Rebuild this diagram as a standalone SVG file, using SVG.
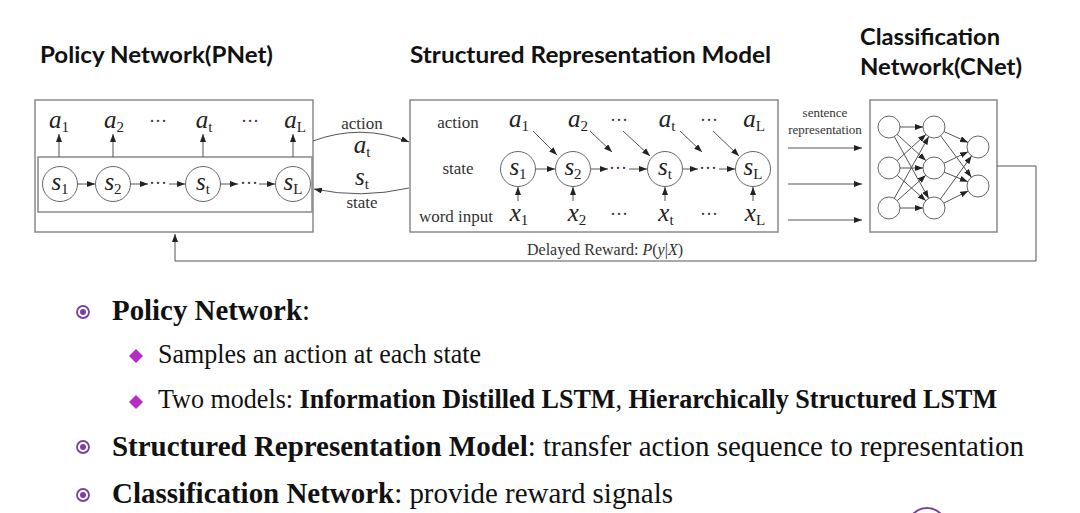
<svg xmlns="http://www.w3.org/2000/svg" width="1080" height="513" viewBox="0 0 1080 513">
<defs>
<style>
.box{fill:none;stroke:#8a8a8a;stroke-width:1.5}
.nd{fill:#fff;stroke:#666;stroke-width:1}
.ln{fill:none;stroke:#555;stroke-width:1}
.arr{fill:none;stroke:#555;stroke-width:1;marker-end:url(#ah)}
.v{font-family:"Liberation Serif",serif;font-style:italic;font-size:25px;fill:#222;text-anchor:middle}
.sub{font-style:normal;font-size:15px}
.dots{font-family:"Liberation Serif",serif;font-size:18px;fill:#333;text-anchor:middle}
.lb{font-family:"Liberation Serif",serif;font-size:17px;fill:#333;text-anchor:middle}
.sm{font-family:"Liberation Serif",serif;font-size:13px;fill:#333;text-anchor:middle}
.title{font-family:Lato,"Liberation Sans",sans-serif;font-weight:bold;font-size:23px;fill:#111}
.b1{font-family:"Liberation Serif",serif;font-size:29px;fill:#111}
.b2{font-family:"Liberation Serif",serif;font-size:27px;fill:#111}
.bd{font-weight:bold}
</style>
<marker id="ah" viewBox="0 0 8 6" refX="8" refY="3" markerWidth="8" markerHeight="6" orient="auto" markerUnits="userSpaceOnUse"><path d="M0,0 L8,3 L0,6 z" fill="#222"/></marker>
</defs>
<rect width="1080" height="513" fill="#fff"/>

<!-- titles -->
<text class="title" x="40" y="63" textLength="233" lengthAdjust="spacingAndGlyphs">Policy Network(PNet)</text>
<text class="title" x="410" y="63" textLength="361" lengthAdjust="spacingAndGlyphs">Structured Representation Model</text>
<text class="title" x="860" y="45" textLength="140" lengthAdjust="spacingAndGlyphs">Classification</text>
<text class="title" x="860" y="75" textLength="162" lengthAdjust="spacingAndGlyphs">Network(CNet)</text>

<!-- PNet -->
<g id="pnet">
<rect class="box" x="35" y="100" width="278" height="132"/>
<rect class="box" x="38" y="157" width="274" height="55"/>
<text class="v" x="59" y="128">a<tspan class="sub" dy="4">1</tspan></text>
<text class="v" x="114" y="128">a<tspan class="sub" dy="4">2</tspan></text>
<text class="dots" x="158" y="127">···</text>
<text class="v" x="204" y="128">a<tspan class="sub" dy="4">t</tspan></text>
<text class="dots" x="250" y="127">···</text>
<text class="v" x="295" y="128">a<tspan class="sub" dy="4">L</tspan></text>
<circle class="nd" cx="60" cy="184" r="17.5"/>
<circle class="nd" cx="113" cy="184" r="17.5"/>
<circle class="nd" cx="203" cy="184" r="17.5"/>
<circle class="nd" cx="293" cy="184" r="17.5"/>
<text class="v" x="60" y="190">s<tspan class="sub" dy="4">1</tspan></text>
<text class="v" x="113" y="190">s<tspan class="sub" dy="4">2</tspan></text>
<text class="v" x="203" y="190">s<tspan class="sub" dy="4">t</tspan></text>
<text class="v" x="293" y="190">s<tspan class="sub" dy="4">L</tspan></text>
<text class="dots" x="158" y="189">···</text>
<text class="dots" x="249" y="189">···</text>
</g>

<!-- SRM -->
<g id="srm">
<rect class="box" x="410" y="100" width="368" height="132"/>
<text class="lb" x="458" y="128">action</text>
<text class="lb" x="458" y="174">state</text>
<text class="lb" x="456" y="222">word input</text>
<text class="v" x="519" y="127">a<tspan class="sub" dy="4">1</tspan></text>
<text class="v" x="578" y="127">a<tspan class="sub" dy="4">2</tspan></text>
<text class="dots" x="619" y="126">···</text>
<text class="v" x="667" y="127">a<tspan class="sub" dy="4">t</tspan></text>
<text class="dots" x="709" y="126">···</text>
<text class="v" x="754" y="127">a<tspan class="sub" dy="4">L</tspan></text>
<circle class="nd" cx="518" cy="169" r="17.5"/>
<circle class="nd" cx="573" cy="169" r="17.5"/>
<circle class="nd" cx="665" cy="169" r="17.5"/>
<circle class="nd" cx="753" cy="169" r="17.5"/>
<text class="v" x="518" y="175">s<tspan class="sub" dy="4">1</tspan></text>
<text class="v" x="573" y="175">s<tspan class="sub" dy="4">2</tspan></text>
<text class="v" x="665" y="175">s<tspan class="sub" dy="4">t</tspan></text>
<text class="v" x="753" y="175">s<tspan class="sub" dy="4">L</tspan></text>
<text class="dots" x="618" y="174">···</text>
<text class="dots" x="708" y="174">···</text>
<text class="v" x="519" y="221">x<tspan class="sub" dy="4">1</tspan></text>
<text class="v" x="577" y="221">x<tspan class="sub" dy="4">2</tspan></text>
<text class="dots" x="619" y="220">···</text>
<text class="v" x="666" y="221">x<tspan class="sub" dy="4">t</tspan></text>
<text class="dots" x="709" y="220">···</text>
<text class="v" x="755" y="221">x<tspan class="sub" dy="4">L</tspan></text>
</g>

<!-- CNet -->
<g id="cnet">
<rect class="box" x="870" y="100" width="127" height="132"/>
<circle class="nd" cx="889" cy="127" r="11"/>
<circle class="nd" cx="889" cy="168" r="11"/>
<circle class="nd" cx="889" cy="208" r="11"/>
<circle class="nd" cx="934" cy="127" r="11"/>
<circle class="nd" cx="934" cy="168" r="11"/>
<circle class="nd" cx="934" cy="208" r="11"/>
<circle class="nd" cx="978" cy="147" r="11"/>
<circle class="nd" cx="978" cy="186" r="11"/>
</g>

<!-- connectors -->
<g id="connectors">
<line class="arr" x1="59" y1="157" x2="59" y2="134"/>
<line class="arr" x1="113" y1="157" x2="113" y2="134"/>
<line class="arr" x1="203" y1="157" x2="203" y2="134"/>
<line class="arr" x1="293" y1="157" x2="293" y2="134"/>
<line class="arr" x1="77" y1="184" x2="95" y2="184"/>
<line class="arr" x1="130" y1="184" x2="148" y2="184"/>
<line class="arr" x1="169" y1="184" x2="185" y2="184"/>
<line class="arr" x1="220" y1="184" x2="238" y2="184"/>
<line class="arr" x1="259" y1="184" x2="275" y2="184"/>
<path class="arr" d="M313,141 Q361,123 409,142"/>
<path class="arr" d="M409,188 Q361,199 314,189"/>
<text class="lb" x="362" y="129">action</text>
<text class="v" x="362" y="153">a<tspan class="sub" dy="4">t</tspan></text>
<text class="v" x="362" y="185">s<tspan class="sub" dy="4">t</tspan></text>
<text class="lb" x="362" y="208">state</text>
<line class="arr" x1="536" y1="169" x2="555" y2="169"/>
<line class="arr" x1="591" y1="169" x2="608" y2="169"/>
<line class="arr" x1="629" y1="169" x2="647" y2="169"/>
<line class="arr" x1="683" y1="169" x2="698" y2="169"/>
<line class="arr" x1="719" y1="169" x2="735" y2="169"/>
<line class="arr" x1="533" y1="131" x2="557" y2="155"/>
<line class="arr" x1="590" y1="131" x2="612" y2="152"/>
<line class="arr" x1="623" y1="131" x2="650" y2="156"/>
<line class="arr" x1="680" y1="131" x2="702" y2="152"/>
<line class="arr" x1="713" y1="131" x2="739" y2="156"/>
<line class="arr" x1="518" y1="201" x2="518" y2="187"/>
<line class="arr" x1="573" y1="201" x2="573" y2="187"/>
<line class="arr" x1="665" y1="201" x2="665" y2="187"/>
<line class="arr" x1="753" y1="201" x2="753" y2="187"/>
<text class="sm" x="825" y="117">sentence</text>
<text class="sm" x="825" y="134">representation</text>
<line class="arr" x1="788" y1="148" x2="862" y2="148"/>
<line class="arr" x1="788" y1="184" x2="862" y2="184"/>
<line class="arr" x1="788" y1="220" x2="862" y2="220"/>
<line class="arr" x1="900" y1="127" x2="923" y2="127"/>
<line class="arr" x1="897.1" y1="134.4" x2="925.9" y2="160.6"/>
<line class="arr" x1="894.3" y1="136.6" x2="928.7" y2="198.4"/>
<line class="arr" x1="897.1" y1="160.6" x2="925.9" y2="134.4"/>
<line class="arr" x1="900" y1="168" x2="923" y2="168"/>
<line class="arr" x1="897.2" y1="175.3" x2="925.8" y2="200.7"/>
<line class="arr" x1="894.3" y1="198.4" x2="928.7" y2="136.6"/>
<line class="arr" x1="897.2" y1="200.7" x2="925.8" y2="175.3"/>
<line class="arr" x1="900" y1="208" x2="923" y2="208"/>
<line class="arr" x1="944" y1="131.6" x2="968" y2="142.4"/>
<line class="arr" x1="940.6" y1="135.8" x2="971.4" y2="177.2"/>
<line class="arr" x1="943.9" y1="163.3" x2="968.1" y2="151.7"/>
<line class="arr" x1="944.2" y1="172.2" x2="967.8" y2="181.8"/>
<line class="arr" x1="940.4" y1="199.1" x2="971.6" y2="155.9"/>
<line class="arr" x1="943.8" y1="203.1" x2="968.2" y2="190.9"/>
<path class="arr" d="M997,166 H1036 V261 H175 V234"/>
<text x="605" y="255" font-family="Liberation Serif, serif" font-size="16" fill="#333" text-anchor="middle">Delayed Reward: <tspan font-style="italic">P</tspan>(<tspan font-style="italic">y</tspan>|<tspan font-style="italic">X</tspan>)</text>
</g>

<!-- bullets -->
<g id="bullets">
<circle cx="83" cy="312" r="6" fill="none" stroke="#7B3FA5" stroke-width="1.8"/>
<circle cx="83" cy="312" r="3" fill="#7B3FA5"/>
<circle cx="83" cy="447" r="6" fill="none" stroke="#7B3FA5" stroke-width="1.8"/>
<circle cx="83" cy="447" r="3" fill="#7B3FA5"/>
<circle cx="83" cy="495" r="6" fill="none" stroke="#7B3FA5" stroke-width="1.8"/>
<circle cx="83" cy="495" r="3" fill="#7B3FA5"/>
<path d="M136,349 L143,356 L136,363 L129,356 Z" fill="#B52BC4"/>
<path d="M136,395 L143,402 L136,409 L129,402 Z" fill="#B52BC4"/>
<text class="b1" x="112" y="320" textLength="198" lengthAdjust="spacingAndGlyphs"><tspan class="bd">Policy Network</tspan>:</text>
<text class="b2" x="158" y="363" textLength="323" lengthAdjust="spacingAndGlyphs">Samples an action at each state</text>
<text class="b2" x="158" y="408" textLength="839" lengthAdjust="spacingAndGlyphs">Two models: <tspan class="bd">Information Distilled LSTM</tspan>, <tspan class="bd">Hierarchically Structured LSTM</tspan></text>
<text class="b1" x="112" y="456" font-size="31" textLength="912" lengthAdjust="spacingAndGlyphs"><tspan class="bd">Structured Representation Model</tspan>: transfer action sequence to representation</text>
<text class="b1" x="112" y="503" font-size="31" textLength="561" lengthAdjust="spacingAndGlyphs"><tspan class="bd">Classification Network</tspan>: provide reward signals</text>
<circle cx="927" cy="527" r="19" fill="none" stroke="#7B3FA5" stroke-width="2"/>
</g>
</svg>
